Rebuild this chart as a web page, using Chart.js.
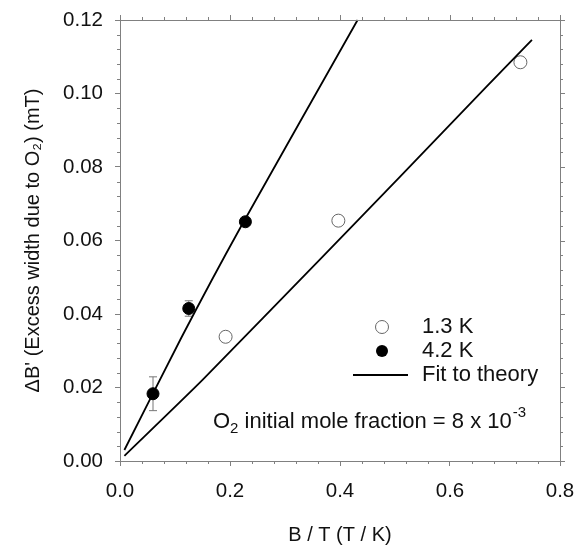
<!DOCTYPE html>
<html>
<head>
<meta charset="utf-8">
<script src="https://cdn.jsdelivr.net/npm/chart.js@4.4.0/dist/chart.umd.min.js"></script>
<style>
  html, body { margin: 0; padding: 0; background: #fff; }
</style>
</head>
<body>
<canvas id="myChart" width="575" height="547"></canvas>
<script>
// tick labels
const xTicks = [0, 0.2, 0.4, 0.6, 0.8];
const yTicks = [0, 0.02, 0.04, 0.06, 0.08, 0.10, 0.12];

// 1.3 K (open circles)
const x13 = [0.192, 0.397, 0.728];
const y13 = [0.0338, 0.0654, 0.1085];
const err13 = [0.0008, 0.0008, 0.0008];

// 4.2 K (filled circles)
const x42 = [0.060, 0.125, 0.228];
const y42 = [0.0183, 0.0415, 0.0651];
const err42 = [0.0046, 0.0021, 0.0008];

// fit to theory, 1.3 K
const fitX13 = [0.008, 0.151, 0.369, 0.508, 0.666, 0.749];
const fitY13 = [0.0014, 0.0222, 0.0557, 0.0772, 0.1018, 0.1146];

// fit to theory, 4.2 K
const fitX42 = [0.008, 0.111, 0.220, 0.432];
const fitY42 = [0.0030, 0.0334, 0.0638, 0.1200];

const FONT = "'Liberation Sans', Arial, sans-serif";
const AXIS = '#808080';
const ctx = document.getElementById('myChart').getContext('2d');

const pts = (xs, ys) => xs.map((v, i) => ({ x: v, y: ys[i] }));

// minor ticks every 1/5 of a major step
function minors(major) {
  const out = [];
  for (let i = 0; i < major.length - 1; i++) {
    const step = (major[i + 1] - major[i]) / 5;
    for (let k = 1; k < 5; k++) out.push(major[i] + k * step);
  }
  return out;
}

const errorBars = {
  id: 'errorBars',
  beforeDatasetsDraw(chart) {
    const { ctx, scales: { x, y } } = chart;
    ctx.save();
    ctx.strokeStyle = '#777';
    ctx.lineWidth = 1;
    chart.data.datasets.forEach(ds => {
      if (!ds.err) return;
      ds.data.forEach((p, i) => {
        const px = x.getPixelForValue(p.x);
        const top = y.getPixelForValue(p.y + ds.err[i]);
        const bot = y.getPixelForValue(p.y - ds.err[i]);
        ctx.beginPath();
        ctx.moveTo(px, top); ctx.lineTo(px, bot);
        ctx.moveTo(px - 4, top); ctx.lineTo(px + 4, top);
        ctx.moveTo(px - 4, bot); ctx.lineTo(px + 4, bot);
        ctx.stroke();
      });
    });
    ctx.restore();
  }
};

const frame = {
  id: 'frame',
  afterDraw(chart) {
    const { ctx, chartArea: a, scales: { x, y } } = chart;
    ctx.save();
    ctx.strokeStyle = AXIS;
    ctx.lineWidth = 1;
    ctx.beginPath();
    ctx.moveTo(a.left, a.top + 0.5); ctx.lineTo(a.right + 0.5, a.top + 0.5);
    ctx.lineTo(a.right + 0.5, a.bottom);
    minors(xTicks).forEach(v => {
      const px = Math.round(x.getPixelForValue(v)) + 0.5;
      ctx.moveTo(px, a.bottom); ctx.lineTo(px, a.bottom + 3);
      ctx.moveTo(px, a.top); ctx.lineTo(px, a.top - 3);
    });
    xTicks.forEach(v => {
      const px = Math.round(x.getPixelForValue(v)) + 0.5;
      ctx.moveTo(px, a.top); ctx.lineTo(px, a.top - 5);
    });
    minors(yTicks).forEach(v => {
      const py = Math.round(y.getPixelForValue(v)) + 0.5;
      ctx.moveTo(a.left, py); ctx.lineTo(a.left - 3, py);
      ctx.moveTo(a.right, py); ctx.lineTo(a.right + 3, py);
    });
    yTicks.forEach(v => {
      const py = Math.round(y.getPixelForValue(v)) + 0.5;
      ctx.moveTo(a.right, py); ctx.lineTo(a.right + 5, py);
    });
    ctx.stroke();

    // legend
    ctx.font = '22px ' + FONT;
    ctx.textBaseline = 'middle';
    ctx.textAlign = 'left';
    const mx = 382, tx = 422;
    ctx.beginPath(); ctx.arc(mx, 327, 6.5, 0, Math.PI * 2);
    ctx.fillStyle = '#fff'; ctx.fill(); ctx.strokeStyle = '#666'; ctx.stroke();
    ctx.beginPath(); ctx.arc(mx, 351, 6, 0, Math.PI * 2);
    ctx.fillStyle = '#000'; ctx.fill();
    ctx.beginPath(); ctx.moveTo(353, 375); ctx.lineTo(408, 375);
    ctx.strokeStyle = '#000'; ctx.lineWidth = 1.8; ctx.stroke();
    ctx.fillStyle = '#111';
    ctx.fillText('1.3 K', tx, 327);
    ctx.fillText('4.2 K', tx, 351);
    ctx.fillText('Fit to theory', tx, 375);

    // annotation
    let ax = 213;
    const ay = 422;
    ctx.fillText('O', ax, ay); ax += ctx.measureText('O').width;
    ctx.font = '15px ' + FONT;
    ctx.fillText('2', ax, ay + 7); ax += ctx.measureText('2').width;
    ctx.font = '22px ' + FONT;
    const body = ' initial mole fraction = 8 x 10';
    ctx.fillText(body, ax, ay); ax += ctx.measureText(body).width;
    ctx.font = '15px ' + FONT;
    ctx.fillText('-3', ax + 1, ay - 9);
    ctx.restore();
  }
};

const chart = new Chart(ctx, {
  type: 'scatter',
  data: {
    datasets: [
      {
        label: 'Fit 4.2 K',
        data: pts(fitX42, fitY42),
        showLine: true,
        borderColor: '#000',
        borderWidth: 1.8,
        pointRadius: 0,
        tension: 0.2
      },
      {
        label: 'Fit 1.3 K',
        data: pts(fitX13, fitY13),
        showLine: true,
        borderColor: '#000',
        borderWidth: 1.8,
        pointRadius: 0,
        tension: 0.2
      },
      {
        label: '1.3 K',
        data: pts(x13, y13),
        err: err13,
        pointRadius: 6.5,
        pointBackgroundColor: '#fff',
        pointBorderColor: '#666',
        pointBorderWidth: 1
      },
      {
        label: '4.2 K',
        data: pts(x42, y42),
        err: err42,
        pointRadius: 6,
        pointBackgroundColor: '#000',
        pointBorderColor: '#000',
        pointBorderWidth: 1
      }
    ]
  },
  options: {
    responsive: false,
    animation: false,
    devicePixelRatio: 1,
    clip: false,
    layout: { padding: { top: 20, right: 15, left: 0, bottom: 0 } },
    plugins: {
      legend: { display: false },
      tooltip: { enabled: false }
    },
    scales: {
      x: {
        type: 'linear',
        min: 0,
        max: 0.8,
        afterBuildTicks: s => { s.ticks = xTicks.map(v => ({ value: v })); },
        afterFit: s => { s.height = 86; s.paddingLeft = 0; s.paddingRight = 0; },
        grid: { drawOnChartArea: false, tickLength: 5, tickColor: AXIS },
        border: { color: AXIS, width: 1 },
        ticks: {
          color: '#111',
          padding: 13,
          maxRotation: 0,
          font: { family: FONT, size: 20.5 },
          callback: v => v.toFixed(1)
        },
        title: {
          display: true,
          text: 'B / T (T / K)',
          color: '#111',
          font: { family: FONT, size: 20 },
          padding: { top: 0, bottom: 0 }
        }
      },
      y: {
        type: 'linear',
        min: 0,
        max: 0.12,
        afterBuildTicks: s => { s.ticks = yTicks.map(v => ({ value: v })); },
        afterFit: s => { s.width = 120; s.paddingTop = 0; s.paddingBottom = 0; },
        grid: { drawOnChartArea: false, tickLength: 5, tickColor: AXIS },
        border: { color: AXIS, width: 1 },
        ticks: {
          color: '#111',
          padding: 12,
          font: { family: FONT, size: 20.5 },
          callback: v => v.toFixed(2)
        },
        title: {
          display: true,
          text: 'ΔB\' (Excess width due to O₂) (mT)',
          color: '#111',
          font: { family: FONT, size: 20 },
          padding: { top: 21, bottom: 0 }
        }
      }
    }
  },
  plugins: [errorBars, frame]
});
</script>
</body>
</html>
